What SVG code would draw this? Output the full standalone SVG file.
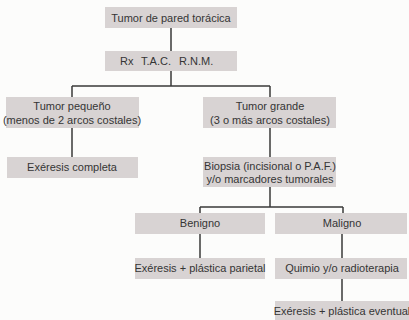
<svg xmlns="http://www.w3.org/2000/svg" width="409" height="320" viewBox="0 0 409 320">
<style>
.b{fill:#d8d3d3;}
.t{font-family:"Liberation Sans",Arial,sans-serif;font-size:11px;fill:#353535;text-anchor:middle;}
.s{text-anchor:start;}
.c{stroke:#3a3a3a;stroke-width:1.5;fill:none;}
</style>
<rect width="409" height="320" fill="#fcfcfb"/>
<g id="connectors" class="c">
<path d="M171 28V51M171 71V86M72 86H270M72 86V97M270 86V97"/>
<path d="M72 128V157M270 128V157M270 187V207M200 207H343M200 207V213M343 207V213"/>
<path d="M200 234V258M342 234V258M342 279V301"/>
</g>
<g id="n1"><rect class="b" x="105" y="7" width="132" height="21"/><text class="t" x="171" y="22">Tumor de pared torácica</text></g>
<g id="n2"><rect class="b" x="105" y="51" width="132" height="20"/><text class="t s" x="120" y="65">Rx</text><text class="t s" x="141" y="65">T.A.C.</text><text class="t s" x="179" y="65">R.N.M.</text></g>
<g id="n3"><rect class="b" x="6" y="97" width="133" height="31"/><text class="t" x="72" y="110">Tumor pequeño</text><text class="t" x="72" y="124">(menos de 2 arcos costales)</text></g>
<g id="n4"><rect class="b" x="203" y="97" width="133" height="31"/><text class="t" x="270" y="110">Tumor grande</text><text class="t" x="270" y="124">(3  o más arcos costales)</text></g>
<g id="n5"><rect class="b" x="7" y="157" width="131" height="21"/><text class="t" x="72" y="171">Exéresis completa</text></g>
<g id="n6"><rect class="b" x="203" y="157" width="133" height="30"/><text class="t" x="270" y="170">Biopsia (incisional o P.A.F.)</text><text class="t" x="270" y="183">y/o marcadores tumorales</text></g>
<g id="n7"><rect class="b" x="135" y="213" width="130" height="21"/><text class="t" x="200" y="227">Benigno</text></g>
<g id="n8"><rect class="b" x="275" y="213" width="132" height="21"/><text class="t" x="342" y="227">Maligno</text></g>
<g id="n9"><rect class="b" x="135" y="258" width="130" height="21"/><text class="t" x="200" y="272">Exéresis + plástica parietal</text></g>
<g id="n10"><rect class="b" x="275" y="258" width="132" height="21"/><text class="t" x="342" y="272">Quimio y/o radioterapia</text></g>
<g id="n11"><rect class="b" x="275" y="301" width="134" height="19"/><text class="t" x="342" y="315">Exéresis + plástica eventual</text></g>
</svg>
